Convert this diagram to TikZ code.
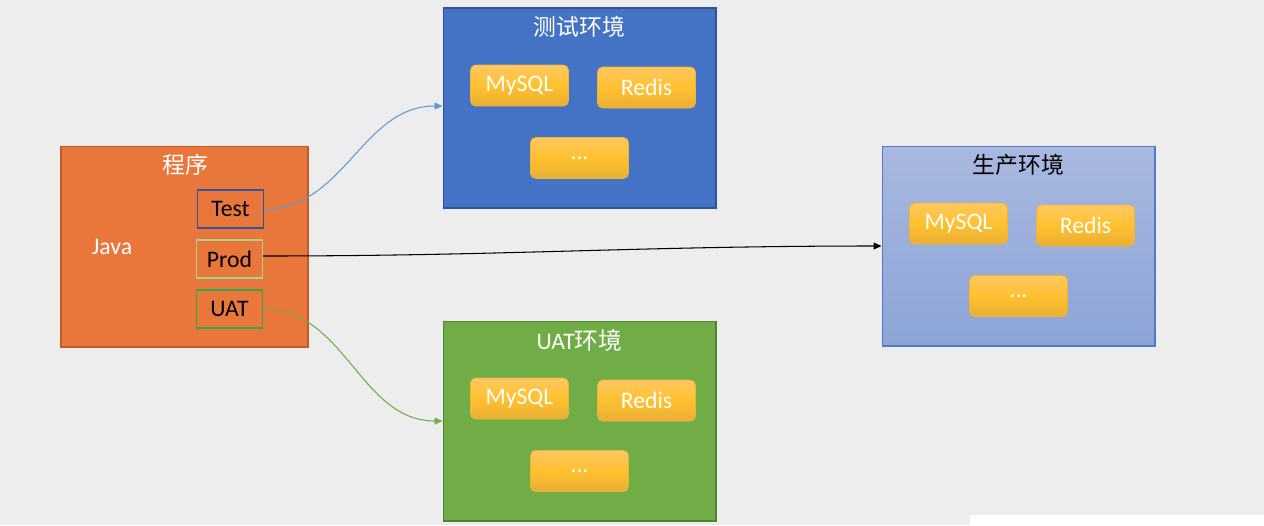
\documentclass[tikz,border=0pt]{standalone}
\usepackage{fontspec}
\setmainfont{Carlito}
\newfontfamily\cjk{Noto Sans CJK SC}
\usepackage{xcolor}
\usetikzlibrary{arrows.meta,positioning,calc}

\definecolor{bgGray}{HTML}{EDEDED}
\definecolor{progOrange}{HTML}{E9773C}
\definecolor{progEdge}{HTML}{C55A28}
\definecolor{testBlue}{HTML}{4472C4}
\definecolor{testEdge}{HTML}{2F5597}
\definecolor{prodTop}{HTML}{A9B8E0}
\definecolor{prodBot}{HTML}{8CA4D7}
\definecolor{prodEdge}{HTML}{4F7AC7}
\definecolor{uatGreen}{HTML}{70AD47}
\definecolor{uatEdge}{HTML}{548235}
\definecolor{dbTop}{HTML}{FFC860}
\definecolor{dbMid}{HTML}{FFC12F}
\definecolor{dbBot}{HTML}{E9AE34}
\definecolor{dbEdge}{HTML}{EEB43A}
\definecolor{lineBlue}{HTML}{5B9BD5}
\definecolor{tagLime}{HTML}{A9D18E}
\definecolor{tagGreen}{HTML}{2EA84A}

\begin{document}
\begin{tikzpicture}[
    x=0.02cm, y=-0.02cm,
    env/.style={rectangle, draw, line width=0.6pt, minimum width=5.46cm,
                minimum height=4cm, inner sep=0pt},
    db/.style={rectangle, rounded corners=3pt, draw=dbEdge, line width=0.5pt,
               top color=dbTop, bottom color=dbBot, middle color=dbMid,
               minimum width=1.96cm, minimum height=0.82cm, inner sep=0pt,
               text=white, font=\fontsize{13.5}{15}\selectfont},
    tag/.style={rectangle, draw, line width=0.6pt, minimum width=1.32cm,
                minimum height=0.76cm, inner sep=0pt,
                font=\fontsize{13.5}{15}\selectfont},
    title/.style={font=\cjk\fontsize{13}{15}\selectfont, inner sep=0pt},
    link/.style={-{Triangle[length=1.6mm,width=1.4mm]}, line width=0.6pt}
]
% background
\fill[bgGray] (0,0) rectangle (1264,525);
\fill[white] (970,515) rectangle (1264,525);
\useasboundingbox (0,0) rectangle (1264,525);

% program
\node[rectangle, draw=progEdge, fill=progOrange, line width=0.6pt,
      minimum width=4.94cm, minimum height=4.02cm] (prog) at (184.5,246.5) {};
\node[title, text=white] (progtitle) at (185,165) {程序};
\node[text=white, font=\fontsize{13.5}{15}\selectfont] (java) at (112,247) {Java};
\node[tag, draw=testEdge] (test) at (230.5,209) {Test};
\node[tag, draw=tagLime]  (prod) at (229.5,259) {Prod};
\node[tag, draw=tagGreen] (uat)  at (229.5,309) {UAT};

% environments
\node[env, draw=testEdge, fill=testBlue] (testenv) at (579.5,108) {};
\node[env, draw=prodEdge, top color=prodTop, bottom color=prodBot] (prodenv) at (1018.5,246) {};
\node[env, draw=uatEdge, fill=uatGreen] (uatenv) at (579.5,421) {};

\node[title, text=white] (testtitle) at ($(testenv.north)+(0,19)$) {测试环境};
\node[title, text=black] (prodtitle) at ($(prodenv.north)+(0,19)$) {生产环境};
\node[title, text=white] (uattitle)  at ($(uatenv.north)+(0,20)$) {\fontsize{13.5}{15}\selectfont\rmfamily UAT\cjk 环境};

\foreach \e in {testenv,prodenv,uatenv} {
    \node[db] (\e-mysql) at ($(\e)+(-60,-22.5)$) {MySQL};
    \node[db] (\e-redis) at ($(\e)+(67,-20.5)$) {Redis};
    \node[db] (\e-more)  at ($(\e)+(0,50)$) {...};
}

% connectors
\draw[link, lineBlue] (test.east) to[out=0, in=180] ($(testenv.west)+(0,-2)$);
\draw[link, black] ($(prod.east)+(0,-3)$) to[out=0, in=180] (prodenv.west);
\draw[link, uatGreen] (uat.east) to[out=0, in=180] (uatenv.west);
\end{tikzpicture}
\end{document}
